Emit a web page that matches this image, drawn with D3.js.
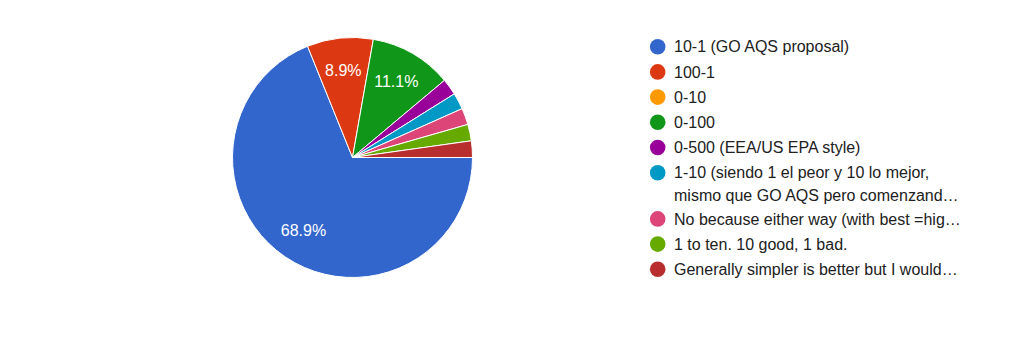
<!DOCTYPE html>
<html>
<head>
<meta charset="utf-8">
<script src="https://cdn.jsdelivr.net/npm/d3@7"></script>
<style>
  body { margin: 0; background: #fff; }
  svg { display: block; font-family: "Liberation Sans", Arial, sans-serif; }
</style>
</head>
<body>
<script>
// answers, as the legend shows them (long ones are cut by the form)
const categories = [
  ["10-1 (GO AQS proposal)"],
  ["100-1"],
  ["0-10"],
  ["0-100"],
  ["0-500 (EEA/US EPA style)"],
  ["1-10 (siendo 1 el peor y 10 lo mejor,", "mismo que GO AQS pero comenzand\u2026"],
  ["No because either way (with best =hig\u2026"],
  ["1 to ten. 10 good, 1 bad."],
  ["Generally simpler is better but I would\u2026"]
];
const counts = [31, 4, 0, 5, 1, 1, 1, 1, 1];
const colors = ["#3366cc", "#dc3912", "#ff9900", "#109618", "#990099", "#0099c6", "#dd4477", "#66aa00", "#b82e2e"];

const w = 1024, h = 343;
const cx = 352.5, cy = 157.5, r = 120;

const svg = d3.select("body").append("svg")
  .attr("width", w)
  .attr("height", h);

const total = d3.sum(counts);
const data = counts.map((v, i) => ({ i: i, value: v }));

const pie = d3.pie()
  .sort(null)
  .value(d => d.value)
  .startAngle(Math.PI / 2)
  .endAngle(Math.PI / 2 + 2 * Math.PI);

const arcs = pie(data);
const arc = d3.arc().innerRadius(0).outerRadius(r);
const labelArc = d3.arc().innerRadius(r * 0.73).outerRadius(r * 0.73);

const g = svg.append("g").attr("transform", `translate(${cx},${cy})`);

g.selectAll("path")
  .data(arcs.filter(d => d.value > 0))
  .join("path")
  .attr("d", arc)
  .attr("fill", d => colors[d.data.i])
  .attr("stroke", "#fff")
  .attr("stroke-width", 1);

g.selectAll("text")
  .data(arcs.filter(d => d.value / total > 0.05))
  .join("text")
  .attr("transform", d => `translate(${labelArc.centroid(d)})`)
  .attr("text-anchor", "middle")
  .attr("dy", "0.34em")
  .style("fill", "#fff")
  .style("font-size", "16px")
  .text(d => (d.value / total * 100).toFixed(1) + "%");

// legend
const legend = svg.append("g").attr("id", "legend");
let y = 46.7;
categories.forEach((lines, i) => {
  legend.append("circle")
    .attr("cx", 657.7)
    .attr("cy", y)
    .attr("r", 7.8)
    .attr("fill", colors[i]);
  lines.forEach((t, k) => {
    legend.append("text")
      .attr("x", 674)
      .attr("y", y + k * 23)
      .attr("dy", "0.36em")
      .style("font-size", "16px")
      .style("fill", "#212121")
      .text(t);
  });
  y += 25.2 + (lines.length - 1) * 21;
});
</script>
</body>
</html>
